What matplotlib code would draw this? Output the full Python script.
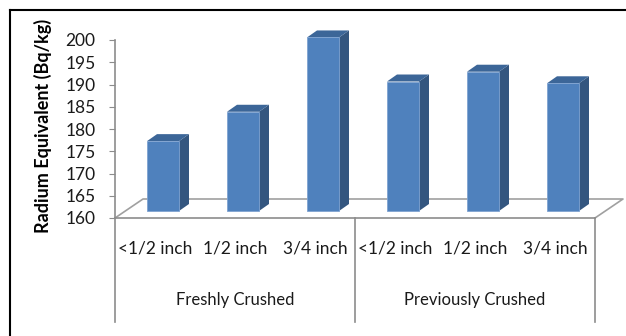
import matplotlib
matplotlib.use("Agg")
import matplotlib.pyplot as plt
from matplotlib.lines import Line2D

plt.rcParams["font.family"] = ["Lato", "DejaVu Sans"]

# data
sizes = ["<1/2 inch", "1/2 inch", "3/4 inch", "<1/2 inch", "1/2 inch", "3/4 inch"]
groups = ["Freshly Crushed", "Previously Crushed"]
values = [175.7, 182.3, 199.0, 189.1, 191.3, 188.7]
y_ticks = [160, 165, 170, 175, 180, 185, 190, 195, 200]

W, H = 626, 336
fig = plt.figure(figsize=(W / 100, H / 100), dpi=100)
# plot area in pixels: x 115..595, y 40 (top) .. 218 (bottom)
left, right, top, bottom = 115, 595, 40, 218
ax = fig.add_axes([left / W, 1 - bottom / H, (right - left) / W, (bottom - top) / H])
ax.set_xlim(-0.5, 5.5)
ax.set_ylim(160, 200)

px_x = (right - left) / 6.0      # pixels per category
px_y = (bottom - top) / 40.0     # pixels per value unit

# 3d depth offsets (pixels -> data units)
floor_dx, floor_dy = 28 / px_x, 19 / px_y
front_dx, front_dy = 8 / px_x, 7 / px_y
back_dx, back_dy = 18 / px_x, 14 / px_y
bar_w = 32 / px_x

grey = "#8c8c8c"
txt = "#1a1a1a"
fs = 12.5

# floor
x0, x1 = -0.5, 5.5
ax.plot([x0, x0 + floor_dx, x1 + floor_dx, x1], [160, 160 + floor_dy, 160 + floor_dy, 160],
        color="#a0a0a0", lw=1.2, clip_on=False, zorder=1)

front_c = "#4f81bd"
side_c = "#34567f"
top_c = "#3c6698"
for i, v in enumerate(values):
    xl = i + front_dx - bar_w / 2
    xr = xl + bar_w
    yb = 160 + front_dy
    yt = v + front_dy
    ddx, ddy = back_dx - front_dx, back_dy - front_dy
    # side face
    ax.fill([xr, xr + ddx, xr + ddx, xr], [yb, yb + ddy, yt + ddy, yt],
            color=side_c, clip_on=False, zorder=3, lw=0)
    # top face
    ax.fill([xl, xl + ddx, xr + ddx, xr], [yt, yt + ddy, yt + ddy, yt],
            color=top_c, clip_on=False, zorder=3, lw=0)
    ax.bar(i + front_dx, v - 160, bottom=yb, width=bar_w, color=front_c,
           edgecolor="#7fa3d1", linewidth=0.6, clip_on=False, zorder=4)

for s in ["top", "right"]:
    ax.spines[s].set_visible(False)
for s in ["left", "bottom"]:
    ax.spines[s].set_color(grey)
    ax.spines[s].set_linewidth(1.2)

ax.set_yticks(y_ticks)
ax.tick_params(axis="y", direction="out", length=4, color=grey, labelsize=fs,
               labelcolor=txt, pad=10)
ax.set_xticks([])

# category table below the axis
lab_y = 160 - 31 / px_y
grp_y = 160 - 82 / px_y
line_end = 160 - 104 / px_y
for i, s in enumerate(sizes):
    ax.text(i, lab_y, s, ha="center", va="center", fontsize=fs, color=txt, clip_on=False)
for g, name in enumerate(groups):
    ax.text(g * 3 + 1, grp_y, name, ha="center", va="center", fontsize=12,
            color=txt, clip_on=False)
for xb in [-0.5, 2.5, 5.5]:
    ax.plot([xb, xb], [160, line_end], color=grey, lw=1.2, clip_on=False)

fig.text(43 / W, 1 - 126 / H, "Radium Equivalent (Bq/kg)", rotation=90, ha="center",
         va="center", fontsize=13, fontweight="bold", color="#000000")

# chart frame (cropped on right and bottom)
fig.add_artist(Line2D([10 / W, 10 / W], [0, 1 - 10 / H], color="black", lw=1.5))
fig.add_artist(Line2D([10 / W, 1], [1 - 10 / H, 1 - 10 / H], color="black", lw=1.5))

fig.savefig("out.png", dpi=100)
